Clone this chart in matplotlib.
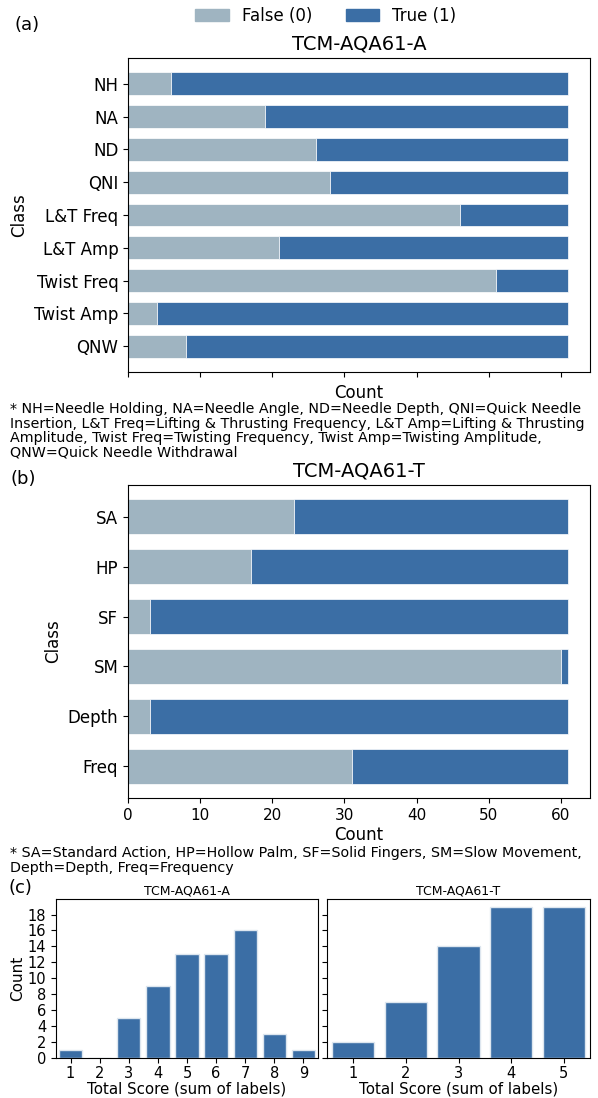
import matplotlib
matplotlib.use("Agg")
import matplotlib.pyplot as plt
import numpy as np
from matplotlib.patches import Patch

# ---- data ----
classes_a = ["NH", "NA", "ND", "QNI", "L&T Freq", "L&T Amp", "Twist Freq", "Twist Amp", "QNW"]
false_a = [6, 19, 26, 28, 46, 21, 51, 4, 8]
true_a = [55, 42, 35, 33, 15, 40, 10, 57, 53]

classes_b = ["SA", "HP", "SF", "SM", "Depth", "Freq"]
false_b = [23, 17, 3, 60, 3, 31]
true_b = [38, 44, 58, 1, 58, 30]

scores_a = [1, 2, 3, 4, 5, 6, 7, 8, 9]
counts_a = [1, 0, 5, 9, 13, 13, 16, 3, 1]
scores_t = [1, 2, 3, 4, 5]
counts_t = [2, 7, 14, 19, 19]

C_FALSE = "#9fb4c1"
C_TRUE = "#3b6ea5"

W, H = 598, 1098
fig = plt.figure(figsize=(W / 100, H / 100), dpi=100)


def ax_rect(l, t, r, b):
    return [l / W, 1 - b / H, (r - l) / W, (b - t) / H]


def stacked(ax, classes, f, t):
    y = np.arange(len(classes))
    ax.barh(y, f, height=0.7, color=C_FALSE, edgecolor="white", linewidth=0.5)
    ax.barh(y, t, left=f, height=0.7, color=C_TRUE, edgecolor="white", linewidth=0.5)
    ax.set_yticks(y)
    ax.set_yticklabels(classes, fontsize=12)
    ax.invert_yaxis()
    ax.set_ylabel("Class", fontsize=12)
    ax.set_xlabel("Count", fontsize=12, labelpad=2)
    ax.set_xticks(np.arange(0, 61, 10))


ax_a = fig.add_axes(ax_rect(128, 58, 590, 372))
stacked(ax_a, classes_a, false_a, true_a)
ax_a.set_xticklabels([])
ax_a.set_title("TCM-AQA61-A", fontsize=14, pad=6)

ax_b = fig.add_axes(ax_rect(128, 485, 590, 798))
stacked(ax_b, classes_b, false_b, true_b)
ax_b.tick_params(axis="x", labelsize=11)
ax_b.set_title("TCM-AQA61-T", fontsize=14, pad=6)

fig.legend(handles=[Patch(color=C_FALSE, label="False (0)"), Patch(color=C_TRUE, label="True (1)")],
           loc="center", bbox_to_anchor=(326 / W, 1 - 16 / H), ncol=2, frameon=False, fontsize=12,
           borderaxespad=0)

fig.text(15 / W, 1 - 25 / H, "(a)", fontsize=13, va="center", ha="left")
fig.text(10 / W, 1 - 479 / H, "(b)", fontsize=13, va="center", ha="left")
fig.text(8 / W, 1 - 888 / H, "(c)", fontsize=13, va="center", ha="left")

note_a = ("* NH=Needle Holding, NA=Needle Angle, ND=Needle Depth, QNI=Quick Needle\n"
          "Insertion, L&T Freq=Lifting & Thrusting Frequency, L&T Amp=Lifting & Thrusting\n"
          "Amplitude, Twist Freq=Twisting Frequency, Twist Amp=Twisting Amplitude,\n"
          "QNW=Quick Needle Withdrawal")
fig.text(10 / W, 1 - 402 / H, note_a, fontsize=10.3, va="top", ha="left", linespacing=1.05)
note_b = ("* SA=Standard Action, HP=Hollow Palm, SF=Solid Fingers, SM=Slow Movement,\n"
          "Depth=Depth, Freq=Frequency")
fig.text(10 / W, 1 - 846 / H, note_b, fontsize=10.3, va="top", ha="left", linespacing=1.05)

ax_c1 = fig.add_axes(ax_rect(56, 899, 318, 1058))
ax_c2 = fig.add_axes(ax_rect(327, 899, 590, 1058), sharey=ax_c1)
for ax, s, c, ttl in [(ax_c1, scores_a, counts_a, "TCM-AQA61-A"), (ax_c2, scores_t, counts_t, "TCM-AQA61-T")]:
    ax.bar(s, c, width=0.8, color=C_TRUE, edgecolor="#dde6ef", linewidth=1)
    ax.set_xlim(s[0] - 0.5, s[-1] + 0.5)
    ax.set_xticks(s)
    ax.tick_params(axis="x", labelsize=10.5, pad=2.5)
    ax.set_title(ttl, fontsize=9, pad=3)
    ax.set_xlabel("Total Score (sum of labels)", fontsize=10.8, labelpad=0)
ax_c1.set_ylim(0, 19.95)
ax_c1.set_yticks(np.arange(0, 19, 2))
ax_c1.tick_params(axis="y", labelsize=10.5)
ax_c1.set_ylabel("Count", fontsize=11, labelpad=2)
plt.setp(ax_c2.get_yticklabels(), visible=False)

fig.savefig("out.png", dpi=100)
